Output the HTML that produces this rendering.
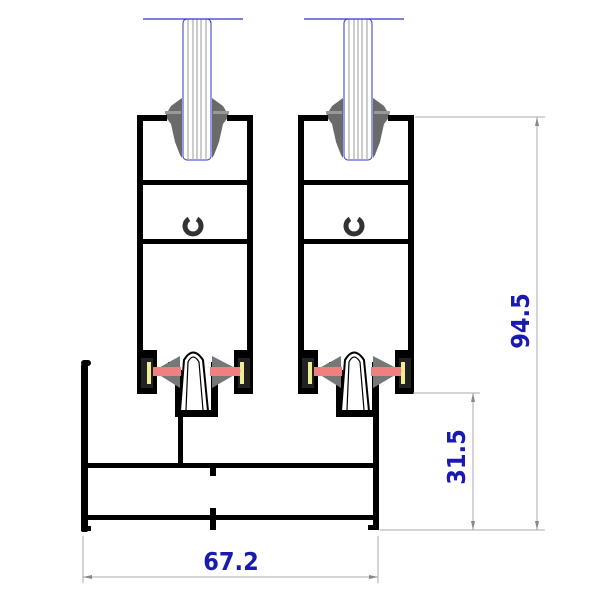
<!DOCTYPE html>
<html><head><style>html,body{margin:0;padding:0;background:#fff}svg{display:block}</style></head>
<body>
<svg width="600" height="600" viewBox="0 0 600 600" xmlns="http://www.w3.org/2000/svg">
<defs>
<g id="unit">
  <!-- glass -->
  <rect x="0" y="19" width="28" height="141" rx="4" fill="#fff" stroke="#33c" stroke-width="1"/>
  <g stroke="#999" stroke-width="1"><line x1="5" y1="19" x2="5" y2="159"/><line x1="10" y1="19" x2="10" y2="159"/><line x1="14" y1="19" x2="14" y2="159"/><line x1="18" y1="19" x2="18" y2="159"/><line x1="23" y1="19" x2="23" y2="159"/></g>
  <line x1="-40" y1="19" x2="60" y2="19" stroke="#33c" stroke-width="1.2"/>
  <!-- gaskets -->
  <polygon points="-1,98 -12,106 -18,116 -12,124 -8,142 -3,155 -1,158" fill="#6a6a6a"/>
  <polygon points="29,98 40,106 46,116 40,124 36,142 31,155 29,158" fill="#6a6a6a"/>
  <rect x="-18" y="111" width="16" height="3" fill="#999"/><rect x="30" y="111" width="16" height="3" fill="#999"/>
  <!-- frame -->
  <g fill="#000">
    <rect x="-46" y="115" width="30" height="6"/><rect x="44" y="115" width="26" height="6"/>
    <rect x="-46" y="115" width="6" height="240"/><rect x="64" y="115" width="6" height="240"/>
    <rect x="-46" y="180" width="116" height="5"/><rect x="-46" y="239" width="116" height="5"/>
    <!-- lugs -->
    <rect x="-46" y="350" width="20" height="44"/><rect x="51" y="350" width="19" height="44"/>
    <!-- channel -->
    <rect x="-15" y="362" width="8" height="12"/><rect x="28" y="362" width="8" height="12"/>
    <rect x="-8" y="370" width="7" height="47"/><rect x="28" y="370" width="7" height="47"/>
    <rect x="-8" y="410" width="43" height="7"/>
  </g>
  <rect x="-42" y="358" width="12" height="30" fill="#222"/><rect x="55" y="358" width="12" height="30" fill="#222"/>
  <rect x="-36" y="362" width="4" height="22" fill="#ee9"/><rect x="57" y="362" width="4" height="22" fill="#ee9"/>
  <!-- fin -->
  <path d="M-3,411 L1,360 Q10,345 20,360 L25,411 Z" fill="#fff" stroke="#000" stroke-width="2"/>
  <path d="M3,410 L5,362 Q10,352 16,362 L20,410" fill="none" stroke="#000" stroke-width="1.2"/>
  <!-- arrows -->
  <polygon points="-30,371 -3,356 -3,388" fill="#777"/>
  <polygon points="58,371 29,356 29,388" fill="#777"/>
  <rect x="-30" y="367" width="28" height="9" fill="#f08080"/><rect x="27" y="367" width="30" height="9" fill="#f08080"/>
  <!-- clip -->
  <path d="M6,219 A8,8 0 1 0 14,219" fill="none" stroke="#333" stroke-width="5"/>
</g>
</defs>
<use href="#unit" x="183" y="0"/>
<use href="#unit" x="344" y="0"/>
<!-- bottom frame -->
<g fill="#000">
  <rect x="81" y="364" width="7" height="168" rx="2"/>
  <rect x="81" y="360" width="10" height="6" rx="3"/>
  <rect x="81" y="463" width="298" height="5"/>
  <rect x="81" y="515" width="298" height="5"/>
  <rect x="178" y="415" width="5" height="50"/>
  <rect x="373" y="415" width="6" height="115"/>
  <rect x="368" y="525" width="11" height="5"/>
  <rect x="81" y="526" width="10" height="5"/>
  <rect x="210" y="466" width="6" height="10"/>
  <rect x="210" y="508" width="6" height="22"/>
</g>
<!-- dimensions -->
<g stroke="#aaa" stroke-width="1" fill="none">
  <line x1="415" y1="117" x2="545" y2="117"/>
  <line x1="380" y1="530" x2="545" y2="530"/>
  <line x1="413" y1="393" x2="480" y2="393"/>
  <line x1="537" y1="117" x2="537" y2="530"/>
  <line x1="473" y1="393" x2="473" y2="530"/>
  <line x1="83" y1="536" x2="83" y2="583"/>
  <line x1="378" y1="536" x2="378" y2="583"/>
  <line x1="83" y1="577" x2="378" y2="577"/>
</g>
<g fill="#888">
  <polygon points="537,117 535,126 539,126"/><polygon points="537,530 535,521 539,521"/>
  <polygon points="473,393 471,402 475,402"/><polygon points="473,530 471,521 475,521"/>
  <polygon points="83,577 92,575 92,579"/><polygon points="378,577 369,575 369,579"/>
</g>
<g font-family="DejaVu Sans Condensed, DejaVu Sans, sans-serif" font-weight="bold" font-size="25" fill="#1a1ab0">
  <text x="231" y="570" text-anchor="middle">67.2</text>
  <text transform="translate(465,457) rotate(-90)" text-anchor="middle">31.5</text>
  <text transform="translate(529,321) rotate(-90)" text-anchor="middle">94.5</text>
</g>
</svg>
</body></html>
